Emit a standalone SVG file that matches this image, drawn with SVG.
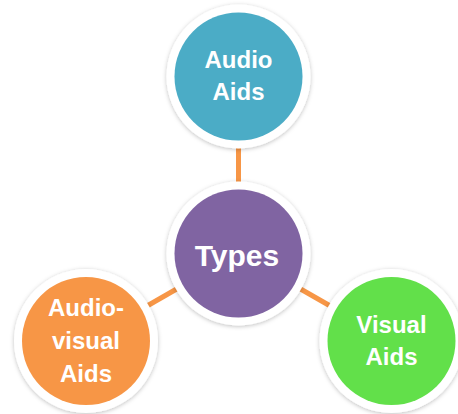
<svg xmlns="http://www.w3.org/2000/svg" width="458" height="414" viewBox="0 0 458 414">
<defs>
<filter id="sh" x="-20%" y="-20%" width="140%" height="140%">
<feDropShadow dx="0" dy="1" stdDeviation="2" flood-color="#000" flood-opacity="0.25"/>
</filter>
</defs>
<style>
.ring{fill:#fff;filter:url(#sh)}
.lbl{font-family:"Liberation Sans",Arial,sans-serif;font-weight:bold;fill:#fff;text-anchor:middle;font-size:24px}
.big{font-size:30px}
.conn{stroke:#F79646;stroke-width:5;fill:none}
</style>
<rect width="458" height="414" fill="#fff"/>
<g id="connectors">
<line class="conn" x1="238.5" y1="76.5" x2="238.5" y2="253.5"/>
<line class="conn" x1="238.5" y1="253.5" x2="86" y2="341"/>
<line class="conn" x1="238.5" y1="253.5" x2="391.5" y2="341"/>
</g>
<g id="audio-aids">
<circle class="ring" cx="238.5" cy="76.5" r="72"/>
<circle cx="238.5" cy="76.5" r="64" fill="#4BACC6"/>
<text class="lbl" x="238.5" y="68">Audio</text>
<text class="lbl" x="238.5" y="100">Aids</text>
</g>
<g id="types">
<circle class="ring" cx="238.5" cy="253.5" r="72"/>
<circle cx="238.5" cy="253.5" r="64" fill="#8064A2"/>
<text class="lbl big" x="237" y="266">Types</text>
</g>
<g id="audio-visual-aids">
<circle class="ring" cx="86" cy="341" r="72"/>
<circle cx="86" cy="341" r="64" fill="#F79646"/>
<text class="lbl" x="86" y="316">Audio-</text>
<text class="lbl" x="86" y="349">visual</text>
<text class="lbl" x="86" y="382">Aids</text>
</g>
<g id="visual-aids">
<circle class="ring" cx="391.5" cy="341" r="72"/>
<circle cx="391.5" cy="341" r="64" fill="#62E04A"/>
<text class="lbl" x="391.5" y="333">Visual</text>
<text class="lbl" x="391.5" y="365">Aids</text>
</g>
</svg>
